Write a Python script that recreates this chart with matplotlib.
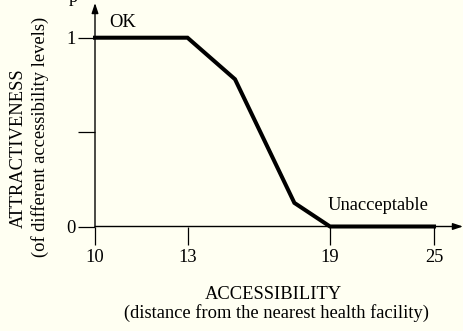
import matplotlib
matplotlib.use('Agg')
import matplotlib.pyplot as plt
import numpy as np

# Dados da curva (acessibilidade x atratividade)
distance = [10, 13, 15, 17.5, 19, 25]
attract = [1, 1, 0.78, 0.125, 0, 0]
xticks = [10, 13, 19, 25]
yticks = [0, 0.5, 1]
ytick_labels = ['0', '', '1']

# escala esquemática (não linear) do eixo x
knots = [-100, 10, 13, 19, 25, 200]
pos = [-3393.3, 0, 92.5, 235, 339, 3372.3]


def forward(x):
    return np.interp(x, knots, pos)


def inverse(p):
    return np.interp(p, pos, knots)


plt.rcParams['font.family'] = ['Liberation Serif', 'DejaVu Serif']
bg = '#fffff2'
fs = 13.3

fig = plt.figure(figsize=(4.64, 3.31), dpi=100, facecolor=bg)
ax = fig.add_axes([95 / 464, 1 - 226.5 / 331, 368 / 464, 223.5 / 331])
ax.set_facecolor(bg)
ax.set_xscale('function', functions=(forward, inverse))
ax.set_xlim(10, inverse(368))
ax.set_ylim(0, 223.5 / 188.8)

ax.plot(distance, attract, color='black', lw=2.9, solid_joinstyle='miter', clip_on=False)

for s in ax.spines.values():
    s.set_visible(False)

# eixos com setas
ax.annotate('', xy=(1, 0), xytext=(0, 0), xycoords='axes fraction',
            arrowprops=dict(arrowstyle='-|>,head_length=0.6,head_width=0.2', color='black', lw=1, shrinkA=0, shrinkB=0))
ax.annotate('', xy=(0, 1), xytext=(0, 0), xycoords='axes fraction',
            arrowprops=dict(arrowstyle='-|>,head_length=0.6,head_width=0.2', color='black', lw=1, shrinkA=0, shrinkB=0))

ax.set_xticks(xticks)
ax.set_xticklabels([str(t) for t in xticks])
ax.set_yticks(yticks)
ax.set_yticklabels(ytick_labels)
ax.tick_params(axis='x', direction='out', length=13, width=0.9, pad=3, labelsize=fs)
ax.tick_params(axis='y', direction='out', length=12, width=0.9, pad=2, labelsize=fs)
ax.minorticks_off()

ax.text(10.91, 1.058, 'OK', ha='center', va='baseline', fontsize=fs)
ax.text(21.74, 0.087, 'Unacceptable', ha='center', va='baseline', fontsize=fs)

fig.text(273 / 464, 1 - 299.3 / 331, 'ACCESSIBILITY', ha='center', va='baseline', fontsize=fs)
fig.text(276 / 464, 1 - 318 / 331, '(distance from the nearest health facility)',
         ha='center', va='baseline', fontsize=fs)
fig.text(18.5 / 464, 1 - 148 / 331, 'ATTRACTIVENESS', rotation=90, ha='center', va='center', fontsize=fs)
fig.text(40 / 464, 1 - 137 / 331, '(of different accessibility levels)', rotation=90,
         ha='center', va='center', fontsize=fs)
# fragmento de texto cortado no topo, como na figura original
fig.text(73 / 464, 1 - 2 / 331, 'p', ha='center', va='baseline', fontsize=fs)

plt.savefig('out.png', dpi=100, facecolor=bg)
